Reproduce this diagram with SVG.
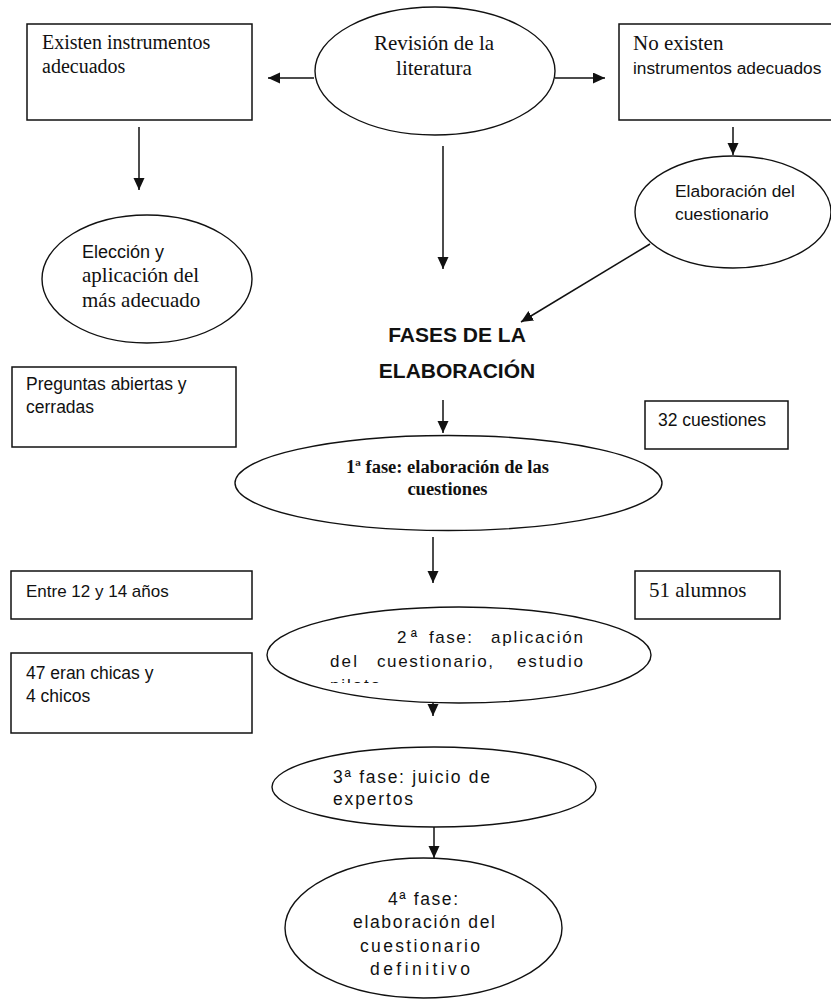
<svg xmlns="http://www.w3.org/2000/svg" width="831" height="1001" viewBox="0 0 831 1001">
<style>
  .box { fill: #fff; stroke: #111; stroke-width: 1.5; }
  .ell { fill: #fff; stroke: #111; stroke-width: 1.4; }
  .serif { font-family: "Liberation Serif", "Times New Roman", serif; fill: #111; }
  .sans { font-family: "Liberation Sans", Arial, sans-serif; fill: #111; }
  .conn { stroke: #111; stroke-width: 1.5; fill: none; marker-end: url(#arrow); }
</style>
<defs>
  <marker id="arrow" markerUnits="userSpaceOnUse" markerWidth="12" markerHeight="12" refX="12" refY="5.5" orient="auto">
    <path d="M0,0 L12,5.5 L0,11 z" fill="#111"/>
  </marker>
  <clipPath id="clip2">
    <rect x="260" y="600" width="400" height="83"/>
  </clipPath>
</defs>
<rect width="831" height="1001" fill="#fff"/>

<g id="connectors">
  <line class="conn" x1="314" y1="78" x2="268" y2="78"/>
  <line class="conn" x1="555" y1="78" x2="605" y2="78"/>
  <line class="conn" x1="139" y1="127" x2="139" y2="190"/>
  <line class="conn" x1="443" y1="146" x2="443" y2="269"/>
  <line class="conn" x1="733" y1="127" x2="733" y2="155"/>
  <line class="conn" x1="650" y1="244" x2="521" y2="322"/>
  <line class="conn" x1="443" y1="400" x2="443" y2="433"/>
  <line class="conn" x1="433" y1="537" x2="433" y2="583"/>
  <line class="conn" x1="433" y1="683" x2="433" y2="716"/>
  <line class="conn" x1="434" y1="827" x2="434" y2="858"/>
</g>

<g id="existen">
  <rect class="box" x="27" y="24" width="225" height="96"/>
  <text class="serif" font-size="20" x="42" y="49">Existen instrumentos</text>
  <text class="serif" font-size="20" x="42" y="73">adecuados</text>
</g>

<g id="revision">
  <ellipse class="ell" cx="435" cy="71" rx="120" ry="64"/>
  <text class="serif" font-size="21" x="434" y="50" text-anchor="middle">Revisión de la</text>
  <text class="serif" font-size="21" x="434" y="75" text-anchor="middle">literatura</text>
</g>

<g id="no-existen">
  <rect class="box" x="619" y="24" width="220" height="96"/>
  <text class="serif" font-size="21" x="633" y="50">No existen</text>
  <text class="sans" font-size="17.3" x="633" y="74">instrumentos adecuados</text>
</g>

<g id="elaboracion-cuestionario">
  <ellipse class="ell" cx="733" cy="212" rx="98" ry="56"/>
  <text class="sans" font-size="17.4" x="675" y="197">Elaboración del</text>
  <text class="sans" font-size="17.4" x="675" y="220">cuestionario</text>
</g>

<g id="eleccion">
  <ellipse class="ell" cx="147" cy="279" rx="105" ry="64"/>
  <text class="sans" font-size="18" x="82" y="258">Elección y</text>
  <text class="serif" font-size="21" x="82" y="282">aplicación del</text>
  <text class="serif" font-size="21" x="82" y="307">más adecuado</text>
</g>

<g id="fases-titulo">
  <text class="sans" font-size="21" font-weight="bold" x="457" y="342" text-anchor="middle">FASES DE LA</text>
  <text class="sans" font-size="21" font-weight="bold" x="457" y="378" text-anchor="middle">ELABORACIÓN</text>
</g>

<g id="preguntas">
  <rect class="box" x="12" y="367" width="224" height="80"/>
  <text class="sans" font-size="17.5" x="26" y="390">Preguntas abiertas y</text>
  <text class="sans" font-size="17.5" x="26" y="413">cerradas</text>
</g>

<g id="cuestiones-32">
  <rect class="box" x="645" y="401" width="143" height="48"/>
  <text class="sans" font-size="17.5" x="658" y="426">32 cuestiones</text>
</g>

<g id="fase1">
  <ellipse class="ell" cx="448.5" cy="483" rx="213.5" ry="47.5"/>
  <text class="serif" font-size="18.5" font-weight="bold" x="447.5" y="473" text-anchor="middle">1ª fase: elaboración de las</text>
  <text class="serif" font-size="18.5" font-weight="bold" x="447.5" y="495" text-anchor="middle">cuestiones</text>
</g>

<g id="edad">
  <rect class="box" x="11" y="571" width="241" height="48"/>
  <text class="sans" font-size="17" x="26" y="597">Entre 12 y 14 años</text>
</g>

<g id="alumnos">
  <rect class="box" x="635" y="571" width="145" height="48"/>
  <text class="serif" font-size="21" x="649" y="597">51 alumnos</text>
</g>

<g id="fase2">
  <ellipse class="ell" cx="459" cy="655" rx="192" ry="48"/>
  <g class="sans" font-size="17">
    <text x="397" y="643" textLength="20" lengthAdjust="spacing">2ª</text>
    <text x="429" y="643" textLength="43" lengthAdjust="spacing">fase:</text>
    <text x="491" y="643" textLength="92" lengthAdjust="spacing">aplicación</text>
    <text x="330" y="667" textLength="27" lengthAdjust="spacing">del</text>
    <text x="377" y="667" textLength="116" lengthAdjust="spacing">cuestionario,</text>
    <text x="517" y="667" textLength="66" lengthAdjust="spacing">estudio</text>
    <text x="330" y="691" textLength="50" lengthAdjust="spacing" clip-path="url(#clip2)">piloto</text>
  </g>
</g>

<g id="chicas">
  <rect class="box" x="11" y="653" width="241" height="80"/>
  <text class="sans" font-size="17.5" x="26" y="679">47 eran chicas y</text>
  <text class="sans" font-size="17.5" x="26" y="702">4 chicos</text>
</g>

<g id="fase3">
  <ellipse class="ell" cx="434" cy="787" rx="162" ry="40"/>
  <text class="sans" font-size="17.5" x="333" y="783" textLength="157" lengthAdjust="spacing">3ª fase: juicio de</text>
  <text class="sans" font-size="17.5" x="333" y="805" textLength="80" lengthAdjust="spacing">expertos</text>
</g>

<g id="fase4">
  <ellipse class="ell" cx="423.5" cy="928" rx="138.5" ry="70"/>
  <text class="sans" font-size="17.5" x="388" y="905" textLength="70" lengthAdjust="spacing">4ª fase:</text>
  <text class="sans" font-size="17.5" x="353" y="928" textLength="142" lengthAdjust="spacing">elaboración del</text>
  <text class="sans" font-size="17.5" x="360" y="952" textLength="120" lengthAdjust="spacing">cuestionario</text>
  <text class="sans" font-size="17.5" x="370" y="975" textLength="100" lengthAdjust="spacing">definitivo</text>
</g>
</svg>
